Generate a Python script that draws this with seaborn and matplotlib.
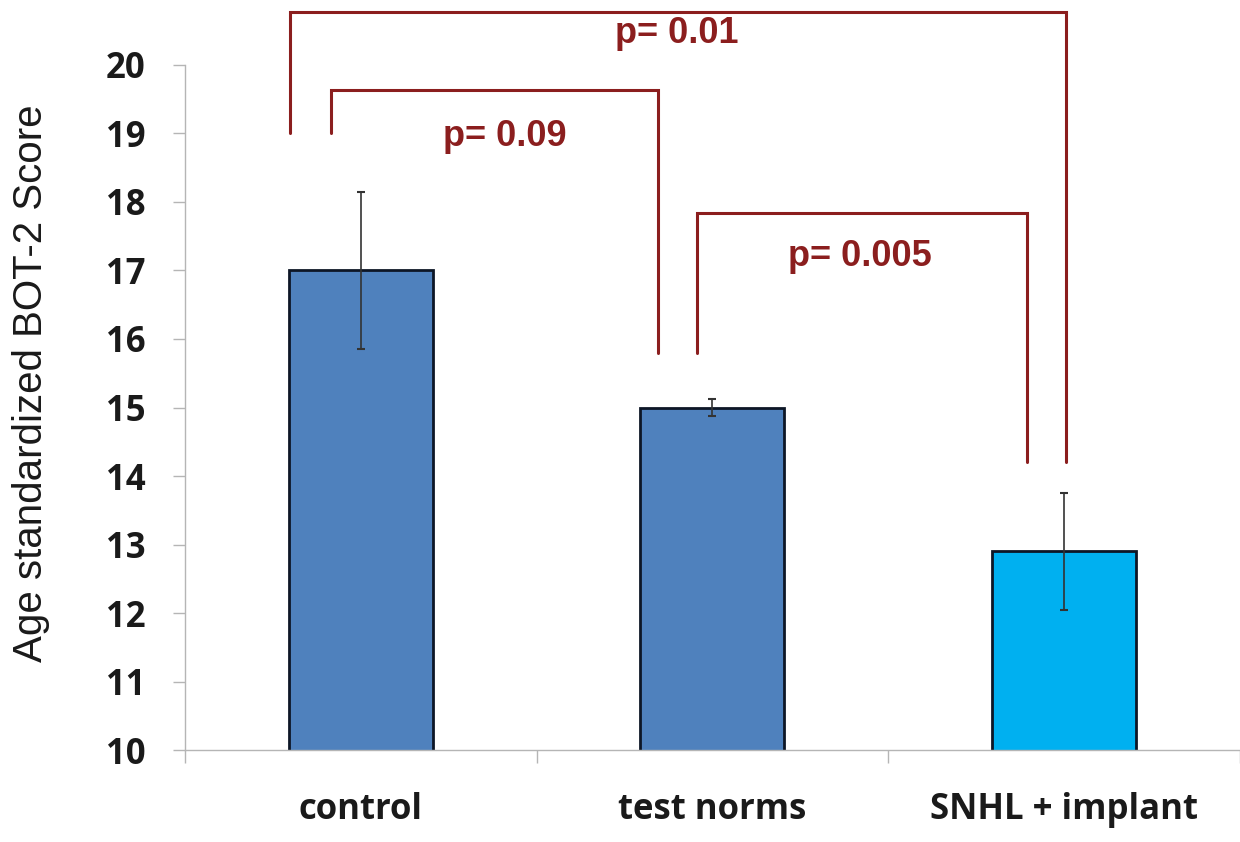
import numpy as np
import pandas as pd
import seaborn as sns
import matplotlib.pyplot as plt

# Données
groupes = ["control", "test norms", "SNHL + implant"]
scores = [17.0, 15.0, 12.9]
erreurs = [1.15, 0.12, 0.85]
couleurs = ["#4F81BD", "#4F81BD", "#00B0F0"]
p_valeurs = ["p= 0.01", "p= 0.09", "p= 0.005"]

df = pd.DataFrame({"groupe": groupes, "score": scores})

sns.set_style("white")
plt.rcParams['font.family'] = ['Liberation Sans', 'DejaVu Sans']

fig = plt.figure(figsize=(12.4, 8.42), dpi=100)
ax = fig.add_axes([0.149, 0.109, 0.851, 0.814])

sns.barplot(data=df, x="groupe", y="score", hue="groupe", palette=couleurs,
            legend=False, width=0.41, edgecolor="#0d1626", linewidth=2,
            saturation=1, ax=ax, errorbar=None)

# barres d'erreur
x_pos = [p.get_x() + p.get_width() / 2 for p in ax.patches]
ax.errorbar(x_pos, scores, yerr=erreurs, fmt="none", ecolor="#333333",
            elinewidth=1.2, capsize=3, capthick=1.5)

ax.set_ylim(10, 20)
ax.set_xlim(-0.5, 2.5)
ax.set_yticks(range(10, 21))
ax.set_xlabel("")
ax.set_ylabel("Age standardized BOT-2 Score", fontsize=29, color='#1a1a1a')
ax.yaxis.set_label_coords(-0.128, 0.535)

for lab in ax.get_yticklabels() + ax.get_xticklabels():
    lab.set_fontfamily(['Open Sans', 'DejaVu Sans'])
    lab.set_fontweight('bold')
    lab.set_fontsize(25)
    lab.set_color('#1a1a1a')

ax.tick_params(axis='y', length=9, color='#b5b5b5', width=1, pad=19, left=True)
ax.tick_params(axis='x', which='major', length=0, pad=30)
ax.set_xticks([-0.5, 0.5, 1.5, 2.5], minor=True)
ax.tick_params(axis='x', which='minor', length=9, color='#b5b5b5', width=1, bottom=True)

sns.despine(ax=ax, top=True, right=True)
for s in ["left", "bottom"]:
    ax.spines[s].set_color("#b5b5b5")
    ax.spines[s].set_linewidth(1)

# crochets de significativité
rouge = "#8B1E1E"
def crochet(x1, y1, x2, y2, haut, texte, tx, ty):
    ax.plot([x1, x1, x2, x2], [y1, haut, haut, y2], color=rouge, lw=2.2,
            clip_on=False, solid_joinstyle='miter')
    ax.text(tx, ty, texte, color=rouge, fontsize=26, fontweight='bold',
            ha='center', va='center')

crochet(-0.20, 19.0, 2.005, 14.2, 20.77, p_valeurs[0], 0.90, 20.45)
crochet(-0.085, 19.0, 0.845, 15.8, 19.64, p_valeurs[1], 0.41, 18.95)
crochet(0.955, 15.8, 1.895, 14.2, 17.84, p_valeurs[2], 1.42, 17.2)

fig.savefig("out.png", dpi=100)
